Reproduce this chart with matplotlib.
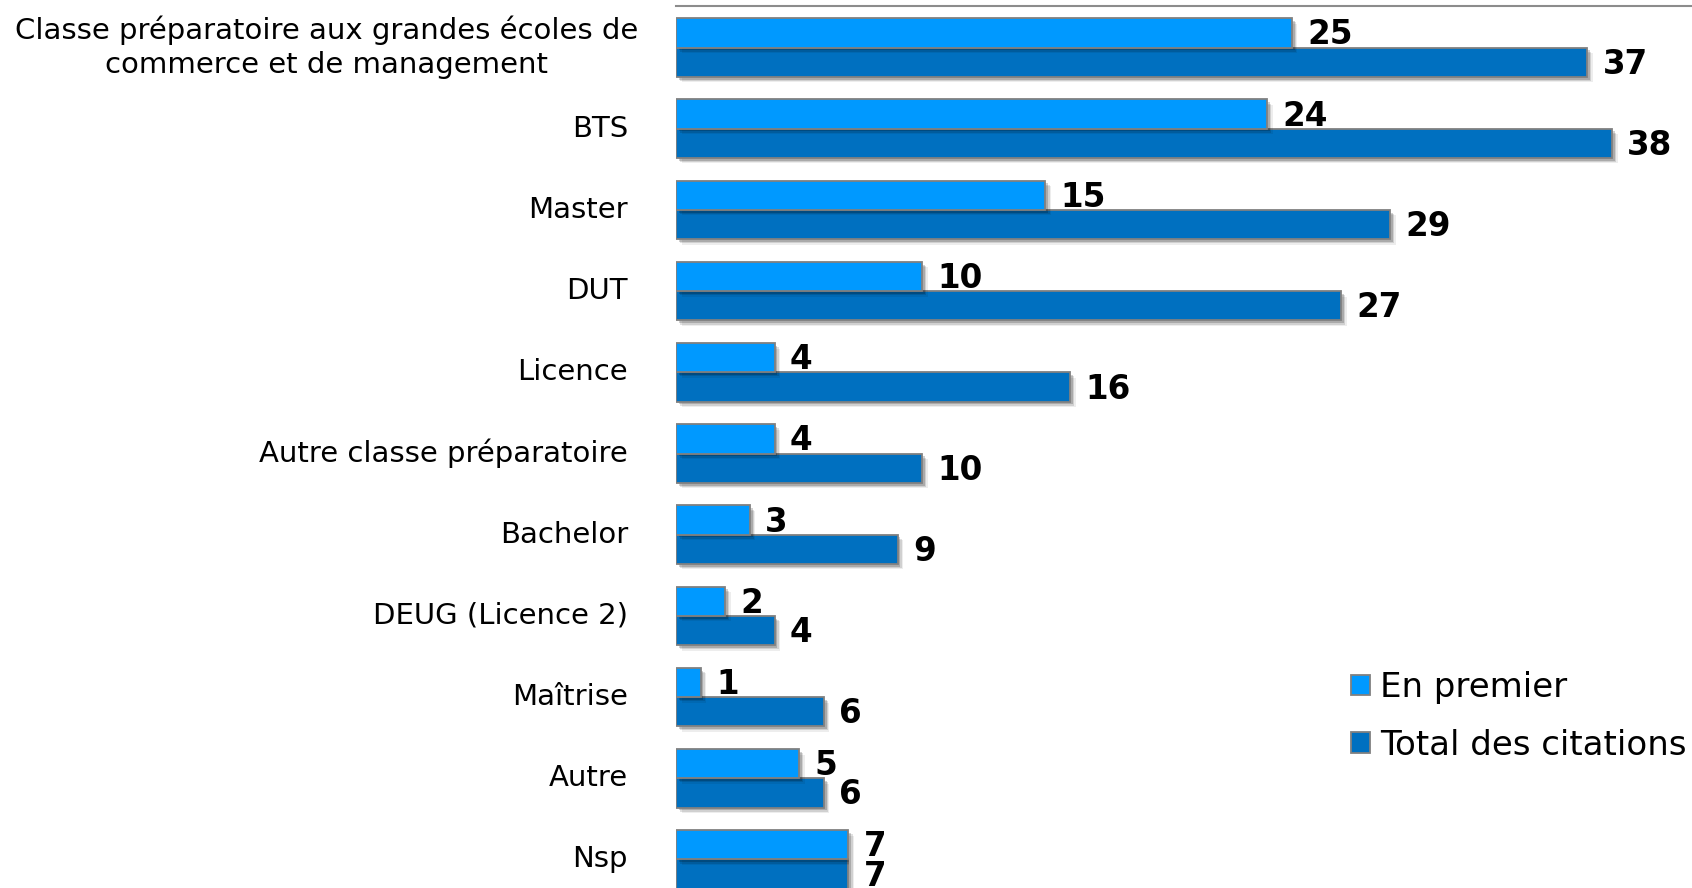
import matplotlib
matplotlib.use("Agg")
import matplotlib.pyplot as plt
import matplotlib.patheffects as pe
from matplotlib.patches import Patch
from matplotlib.transforms import blended_transform_factory
import numpy as np

categories = [
    "Classe préparatoire aux grandes écoles de\ncommerce et de management",
    "BTS", "Master", "DUT", "Licence", "Autre classe préparatoire",
    "Bachelor", "DEUG (Licence 2)", "Maîtrise", "Autre", "Nsp",
]
en_premier = [25, 24, 15, 10, 4, 4, 3, 2, 1, 5, 7]
total_citations = [37, 38, 29, 27, 16, 10, 9, 4, 6, 6, 7]
series_names = ["En premier", "Total des citations"]

LIGHT = "#0099FF"
DARK = "#0070C0"
EDGE = "#808080"

W, H = 1692, 888
fig = plt.figure(figsize=(W / 100, H / 100), dpi=100)
ax = fig.add_axes([676 / W, 0, 1 - 676 / W, 1 - 6.5 / H])

y = np.arange(len(categories))
h = 0.36

shadow = [
    pe.SimplePatchShadow(offset=(4.0, -4.0), shadow_rgbFace="#000000", alpha=0.07),
    pe.SimplePatchShadow(offset=(3.0, -3.0), shadow_rgbFace="#000000", alpha=0.12),
    pe.SimplePatchShadow(offset=(2.0, -2.0), shadow_rgbFace="#000000", alpha=0.18),
    pe.Normal(),
]

bars1 = ax.barh(y - h / 2, en_premier, height=h, color=LIGHT, edgecolor=EDGE,
                linewidth=1.3, label=series_names[0], zorder=3)
bars2 = ax.barh(y + h / 2, total_citations, height=h, color=DARK, edgecolor=EDGE,
                linewidth=1.3, label=series_names[1], zorder=2)
for b in list(bars1) + list(bars2):
    b.set_path_effects(shadow)

for bars, vals in ((bars1, en_premier), (bars2, total_citations)):
    for b, v in zip(bars, vals):
        ax.annotate(str(v), (v, b.get_y() + b.get_height() / 2),
                    xytext=(11, -1.5), textcoords="offset points",
                    ha="left", va="center", fontsize=23.5, fontweight="bold",
                    color="black", zorder=5)

ax.set_xlim(0, 41.25)
ax.set_ylim(len(categories) - 1 + 0.351, -0.505)

for s in ("left", "right", "bottom"):
    ax.spines[s].set_visible(False)
ax.spines["top"].set_color("#8c8c8c")
ax.spines["top"].set_linewidth(1.5)
ax.set_xticks([])
ax.set_yticks([])

trans = blended_transform_factory(fig.transFigure, ax.transData)
for i, c in enumerate(categories):
    if "\n" in c:
        ax.text(638 / W, i + 0.0, c, transform=trans, ha="right", va="center",
                multialignment="center", fontsize=21, linespacing=1.26)
    else:
        ax.text(628 / W, i, c, transform=trans, ha="right", va="center",
                fontsize=21)

handles = [Patch(facecolor=LIGHT, edgecolor=EDGE, linewidth=1.3),
           Patch(facecolor=DARK, edgecolor=EDGE, linewidth=1.3)]
fig.legend(handles, series_names, loc="upper left",
           bbox_to_anchor=(1334 / W, 1 - 654 / H), frameon=False,
           fontsize=24.5, handlelength=0.56, handleheight=0.56,
           handletextpad=0.3, labelspacing=0.72, borderpad=0)

fig.savefig("out.png", dpi=100)
